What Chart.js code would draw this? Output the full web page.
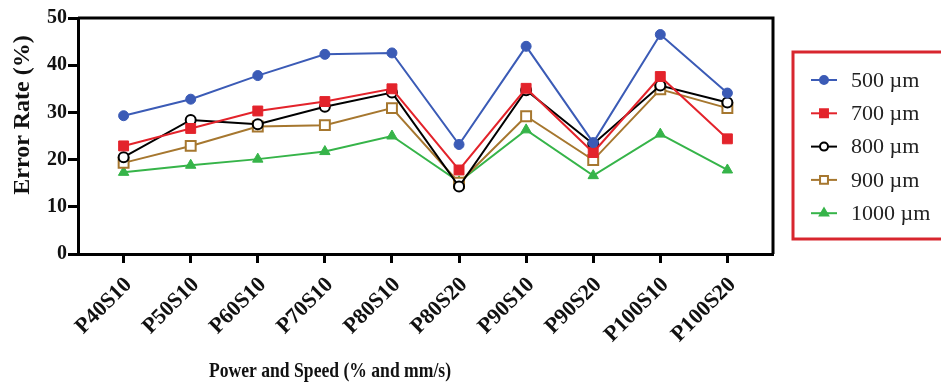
<!DOCTYPE html>
<html>
<head>
<meta charset="utf-8">
<script src="https://cdn.jsdelivr.net/npm/chart.js@4/dist/chart.umd.min.js"></script>
<style>
  html, body { margin: 0; padding: 0; background: #fff; }
  #wrap { width: 941px; height: 392px; }
</style>
</head>
<body>
<div id="wrap"><canvas id="myChart"></canvas></div>
<script>
const categories = ['P40S10', 'P50S10', 'P60S10', 'P70S10', 'P80S10', 'P80S20', 'P90S10', 'P90S20', 'P100S10', 'P100S20'];
const yTicks = [0, 10, 20, 30, 40, 50];

const um500 = [29.3, 32.8, 37.8, 42.3, 42.6, 23.2, 44.0, 23.6, 46.5, 34.1];
const um700 = [22.9, 26.6, 30.3, 32.3, 35.0, 17.8, 35.1, 21.5, 37.6, 24.4];
const um800 = [20.5, 28.4, 27.5, 31.2, 34.2, 14.3, 34.7, 23.3, 35.7, 32.1];
const um900 = [19.3, 22.9, 27.0, 27.3, 30.9, 15.1, 29.2, 19.9, 34.9, 30.9];
const um1000 = [17.3, 18.8, 20.1, 21.7, 25.0, 15.3, 26.3, 16.6, 25.4, 17.8];

const serif = "'Liberation Serif', 'Times New Roman', serif";

const toPoints = (arr) => arr.map((v, i) => ({ x: i, y: v }));

const makeSet = (label, values, color, style, radius, hollow) => ({
  label,
  data: toPoints(values),
  borderColor: color,
  backgroundColor: hollow ? '#fff' : color,
  pointBackgroundColor: hollow ? '#fff' : color,
  pointBorderColor: color,
  pointStyle: style,
  pointRadius: radius,
  pointHoverRadius: radius,
  pointBorderWidth: hollow ? 2 : 1,
  borderWidth: 2,
  tension: 0,
});

const datasets = [
  makeSet('500 µm', um500, '#3b5bb6', 'circle', 5, false),
  makeSet('700 µm', um700, '#e3232b', 'rect', 7, false),
  makeSet('800 µm', um800, '#000000', 'circle', 5, true),
  makeSet('900 µm', um900, '#a6772f', 'rect', 7, true),
  makeSet('1000 µm', um1000, '#36b449', 'triangle', 6, false),
];

// frame, titles and the boxed legend on the right
const extras = {
  id: 'extras',
  afterDraw(chart) {
    const { ctx, chartArea: a } = chart;
    ctx.save();
    ctx.strokeStyle = '#000';
    ctx.lineWidth = 3;
    ctx.beginPath();
    ctx.moveTo(a.left, a.top);
    ctx.lineTo(a.right, a.top);
    ctx.lineTo(a.right, a.bottom);
    ctx.stroke();

    ctx.fillStyle = '#111';
    ctx.textAlign = 'center';
    ctx.textBaseline = 'middle';
    // the source squeezes this title sideways
    ctx.save();
    ctx.translate(330, 371);
    ctx.scale(0.8, 1);
    ctx.font = `bold 22px ${serif}`;
    ctx.fillText('Power and Speed (% and mm/s)', 0, 0);
    ctx.restore();

    ctx.translate(23, 115);
    ctx.rotate(-Math.PI / 2);
    ctx.font = `bold 24px ${serif}`;
    ctx.fillText('Error Rate (%)', 0, 0);
    ctx.restore();

    // legend
    ctx.save();
    ctx.strokeStyle = '#d8262e';
    ctx.lineWidth = 3;
    ctx.strokeRect(793, 52, 160, 187);
    chart.data.datasets.forEach((ds, i) => {
      const y = 80 + i * 33.3;
      ctx.strokeStyle = ds.borderColor;
      ctx.lineWidth = 2;
      ctx.beginPath();
      ctx.moveTo(811, y);
      ctx.lineTo(837, y);
      ctx.stroke();
      ctx.fillStyle = ds.pointBackgroundColor;
      ctx.strokeStyle = ds.pointBorderColor;
      Chart.helpers.drawPoint(ctx, {
        pointStyle: ds.pointStyle,
        radius: ds.pointRadius * 0.8,
        borderWidth: ds.pointBorderWidth,
        rotation: 0,
      }, 824, y);
      ctx.fillStyle = '#222';
      ctx.font = `22px ${serif}`;
      ctx.textAlign = 'left';
      ctx.textBaseline = 'middle';
      ctx.fillText(ds.label, 851, y + 1);
    });
    ctx.restore();
  },
};

const ctx = document.getElementById('myChart');

new Chart(ctx, {
  type: 'line',
  data: { datasets },
  options: {
    responsive: true,
    maintainAspectRatio: false,
    animation: false,
    layout: { padding: { top: 18, right: 168, left: 0, bottom: 0 } },
    plugins: {
      legend: { display: false },
      tooltip: { enabled: false },
    },
    scales: {
      x: {
        type: 'linear',
        min: -0.68,
        max: 9.68,
        afterBuildTicks: (scale) => {
          scale.ticks = categories.map((_, i) => ({ value: i }));
        },
        afterFit: (scale) => {
          scale.height = 138;
        },
        ticks: {
          autoSkip: false,
          minRotation: 45,
          maxRotation: 45,
          padding: 9,
          labelOffset: 5,
          color: '#111',
          font: { family: serif, weight: 'bold', size: 22 },
          callback: (value) => categories[value],
        },
        grid: {
          drawOnChartArea: false,
          drawTicks: true,
          tickLength: 9,
          tickColor: '#000',
          tickWidth: 3,
        },
        border: { display: true, color: '#000', width: 3 },
      },
      y: {
        min: 0,
        max: 50,
        afterBuildTicks: (scale) => {
          scale.ticks = yTicks.map((v) => ({ value: v }));
        },
        afterFit: (scale) => {
          scale.width = 78;
        },
        ticks: {
          padding: 1,
          color: '#111',
          font: { family: serif, weight: 'bold', size: 20 },
        },
        grid: {
          drawOnChartArea: false,
          drawTicks: true,
          tickLength: 10,
          tickColor: '#000',
          tickWidth: 3,
        },
        border: { display: true, color: '#000', width: 3 },
      },
    },
  },
  plugins: [extras],
});
</script>
</body>
</html>
